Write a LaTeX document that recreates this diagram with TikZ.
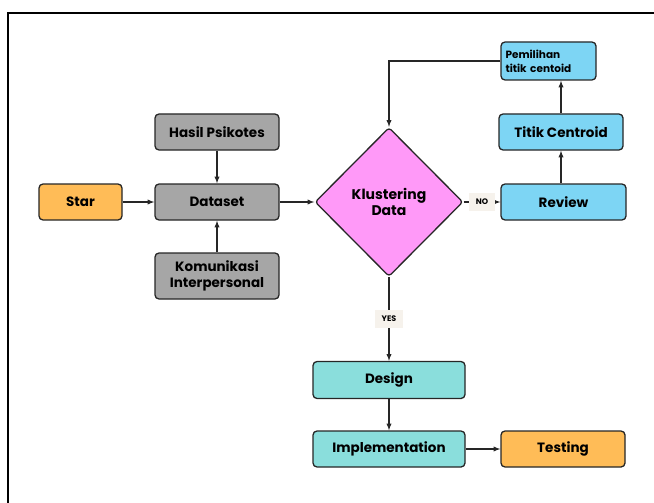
\documentclass[tikz,border=0pt]{standalone}
\usepackage{fontspec}
\setmainfont{Poppins}
\usetikzlibrary{shapes.geometric}
\definecolor{oranye}{HTML}{FFBC57}
\definecolor{abu}{HTML}{A6A6A6}
\definecolor{pink}{HTML}{FF99F8}
\definecolor{biru}{HTML}{7DD5F4}
\definecolor{tosca}{HTML}{8ADEDC}
\definecolor{krem}{HTML}{F6F2EC}
\definecolor{garis}{HTML}{262626}
\tikzset{
	box/.style={rectangle,rounded corners=4pt,draw=garis,line width=1.3pt,
		minimum height=36pt,inner sep=2pt,align=center,font=\bfseries\fontsize{13.5}{16}\selectfont},
	lbl/.style={fill=krem,inner xsep=7pt,inner ysep=6pt,font=\bfseries\fontsize{8}{9}\selectfont},
}
\begin{document}
\begin{tikzpicture}[x=1pt,y=-1pt,line width=1.3pt,draw=garis]
	\useasboundingbox (0,0) rectangle (654,503);
	\draw[line width=1.5pt,black] (654,13) -- (8,13) -- (8,503);
	\node[box,fill=oranye,minimum width=83pt](star) at (80.5,202){Star};
	\node[box,fill=abu,minimum width=124pt](data) at (217,202){Dataset};
	\node[box,fill=abu,minimum width=124pt](hasil) at (217,132){Hasil Psikotes};
	\node[box,fill=abu,minimum width=124pt,minimum height=46pt](kom) at (217,276){Komunikasi\\Interpersonal};
	\node[diamond,draw=garis,fill=pink,minimum width=148pt,minimum height=149pt,inner sep=0pt,rounded corners=3pt,
		align=center,font=\bfseries\fontsize{14}{16}\selectfont](klus) at (389,202){Klustering\\Data};
	\node[box,fill=biru,minimum width=125pt](rev) at (563.5,202){Review};
	\node[box,fill=biru,minimum width=124pt](tc) at (561,132){Titik Centroid};
	\node[box,fill=biru,minimum width=95pt,minimum height=38pt,text width=86pt,align=left,
		font=\bfseries\fontsize{10.5}{14}\selectfont](pem) at (548.5,61){Pemilihan\\titik centoid};
	\node[box,fill=tosca,minimum width=152pt,minimum height=37pt](des) at (389,380){Design};
	\node[box,fill=tosca,minimum width=152pt](imp) at (389,449){Implementation};
	\node[box,fill=oranye,minimum width=124pt](test) at (563,449){Testing};
	\draw[-latex](star)--(data);
	\draw[-latex](hasil)--(data);
	\draw[-latex](kom)--(data);
	\draw[-latex](data)--(klus);
	\draw[-latex](klus)--(rev) node[lbl,midway]{NO};
	\draw[-latex](rev.north -| tc)--(tc.south);
	\draw[-latex](tc.north)--(tc.north |- pem.south);
	\draw[-latex](pem.west)-|(klus.north);
	\draw[-latex](klus)--(des) node[lbl,pos=0.5]{YES};
	\draw[-latex](des)--(imp);
	\draw[-latex](imp)--(test);
\end{tikzpicture}
\end{document}
